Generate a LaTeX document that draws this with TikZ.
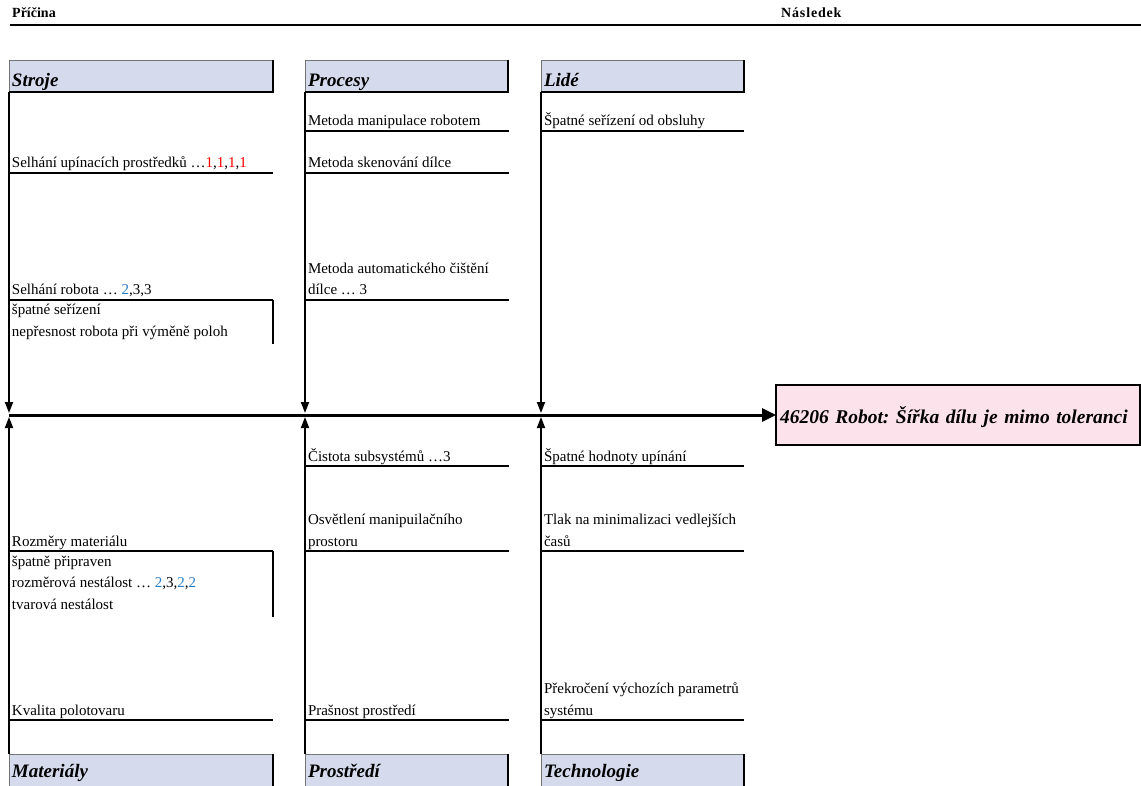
\documentclass[tikz,border=0pt]{standalone}
\usepackage{fontspec}
\setmainfont{Liberation Serif}
\newfontfamily\headfont[LetterSpace=6]{Liberation Serif}
\usetikzlibrary{arrows.meta}
\definecolor{catfill}{RGB}{213,219,236}
\definecolor{efffill}{RGB}{252,226,234}
\definecolor{numred}{RGB}{255,0,0}
\definecolor{numblue}{RGB}{40,125,200}
\newcommand{\lowstrut}{\rule[-3.5pt]{0pt}{3.5pt}}
\newcommand{\highstrut}{\rule{0pt}{13pt}}
\newcommand{\rn}[1]{\textcolor{numred}{#1}}
\newcommand{\bn}[1]{\textcolor{numblue}{#1}}
\frenchspacing
\begin{document}
\begin{tikzpicture}[x=1pt,y=-1pt,
  catbox/.style={fill=catfill, draw=black!55, line width=0.8pt, outer sep=0pt, anchor=north west,
    inner xsep=3pt, inner ysep=0pt, align=left, font=\fontsize{19}{21}\selectfont\bfseries\itshape},
  topcat/.style={catbox, text height=27pt, text depth=5pt},
  botcat/.style={catbox, text height=23pt, text depth=9pt},
  edge/.style={line width=2pt, black},
  effbox/.style={fill=efffill, draw=black, line width=1.5pt, outer sep=0pt, anchor=north west,
    inner xsep=4pt, inner ysep=0pt, text width=356pt, text height=38pt, text depth=22pt, align=left,
    font=\fontsize{19.5}{21}\selectfont\bfseries\itshape},
  cause/.style={anchor=south west, inner xsep=3pt, inner ysep=1.5pt, outer sep=0pt, align=left,
    font=\fontsize{15}{21.5}\selectfont},
  subtext/.style={anchor=north west, inner xsep=3pt, inner ysep=2pt, outer sep=0pt, align=left,
    font=\fontsize{15}{21.5}\selectfont},
  uline/.style={line width=1.2pt},
  bone/.style={line width=1.8pt, -{Triangle[length=11pt,width=8pt]}},
  spine/.style={line width=3pt, -{Triangle[length=14pt,width=13pt]}},
  head/.style={anchor=base west, inner sep=0pt, font=\fontsize{14}{16}\selectfont\bfseries}
]
\useasboundingbox (0,0) rectangle (1141,786);

% header
\node[head] (pricina) at (12,18) {Příčina};
\node[head, font=\headfont\fontsize{14}{16}\selectfont\bfseries] (nasledek) at (781,18) {Následek};
\coordinate (hl) at (10,25);
\coordinate (hr) at (1141,25);
\draw[line width=2.5pt] (hl) -- (hr);

% category boxes
\node[topcat, text width=258pt] (stroje) at (9,60) {Stroje};
\node[topcat, text width=197pt] (procesy) at (305,60) {Procesy};
\node[topcat, text width=197pt] (lide) at (541,60) {Lidé};
\node[botcat, text width=258pt] (mat) at (9,754) {Materiály};
\node[botcat, text width=197pt] (prost) at (305,754) {Prostředí};
\node[botcat, text width=197pt] (tech) at (541,754) {Technologie};
\foreach \n in {stroje,procesy,lide}{
  \draw[edge] (\n.north east) -- (\n.south east) -- (\n.south west);
}
\foreach \n in {mat,prost,tech}{
  \draw[edge] (\n.north east) -- (\n.south east);
}

% effect
\node[effbox] (effect) at (776,385) {46206 Robot: Šířka dílu je mimo toleranci};
\draw[line width=2.5pt] (effect.north east) -- (effect.south east) -- (effect.south west);

% spine
\coordinate (s0) at (9,415);
\draw[spine] (s0) -- (effect.west);

% bones
\coordinate (tA) at (9,413);
\coordinate (tB) at (305,413);
\coordinate (tC) at (541,413);
\coordinate (bA) at (9,417);
\coordinate (bB) at (305,417);
\coordinate (bC) at (541,417);
\draw[bone] (stroje.south west) -- (tA);
\draw[bone] (procesy.south west) -- (tB);
\draw[bone] (lide.south west) -- (tC);
\draw[bone] (mat.north west) -- (bA);
\draw[bone] (prost.north west) -- (bB);
\draw[bone] (tech.north west) -- (bC);

% causes: Stroje
\node[cause] (a1) at (9,173) {Selhání upínacích prostředků …\rn{1},\rn{1},\rn{1},\rn{1}\lowstrut};
\draw[uline] (a1.south west) -- ++(264,0);
\node[cause] (a2) at (9,300) {Selhání robota … \bn{2},3,3\lowstrut};
\draw[uline] (a2.south west) -- ++(264,0);
\node[subtext] (a2s) at (9,300) {\highstrut špatné seřízení\\nepřesnost robota při výměně poloh};
\draw[uline] ([xshift=264pt]a2.south west) -- ++(0,44);

% causes: Procesy
\node[cause] (b1) at (305,131) {Metoda manipulace robotem\lowstrut};
\draw[uline] (b1.south west) -- ++(204,0);
\node[cause] (b2) at (305,173) {Metoda skenování dílce\lowstrut};
\draw[uline] (b2.south west) -- ++(204,0);
\node[cause] (b3) at (305,300) {Metoda automatického čištění\\dílce … 3\lowstrut};
\draw[uline] (b3.south west) -- ++(204,0);

% causes: Lidé
\node[cause] (c1) at (541,131) {Špatné seřízení od obsluhy\lowstrut};
\draw[uline] (c1.south west) -- ++(203,0);

% causes: Prostředí
\node[cause] (d1) at (305,466) {Čistota subsystémů …3\lowstrut};
\draw[uline] (d1.south west) -- ++(204,0);
\node[cause] (d2) at (305,551) {Osvětlení manipuilačního\\prostoru\lowstrut};
\draw[uline] (d2.south west) -- ++(204,0);
\node[cause] (d3) at (305,720) {Prašnost prostředí\lowstrut};
\draw[uline] (d3.south west) -- ++(204,0);

% causes: Technologie
\node[cause] (e1) at (541,466) {Špatné hodnoty upínání\lowstrut};
\draw[uline] (e1.south west) -- ++(203,0);
\node[cause] (e2) at (541,551) {Tlak na minimalizaci vedlejších\\časů\lowstrut};
\draw[uline] (e2.south west) -- ++(203,0);
\node[cause] (e3) at (541,720) {Překročení výchozích parametrů\\systému\lowstrut};
\draw[uline] (e3.south west) -- ++(203,0);

% causes: Materiály
\node[cause] (f1) at (9,551) {Rozměry materiálu\lowstrut};
\draw[uline] (f1.south west) -- ++(264,0);
\node[subtext] (f1s) at (9,551) {\highstrut špatně připraven\\rozměrová nestálost … \bn{2},3,\bn{2},\bn{2}\\tvarová nestálost};
\draw[uline] ([xshift=264pt]f1.south west) -- ++(0,66);
\node[cause] (f2) at (9,720) {Kvalita polotovaru\lowstrut};
\draw[uline] (f2.south west) -- ++(264,0);
\end{tikzpicture}
\end{document}
